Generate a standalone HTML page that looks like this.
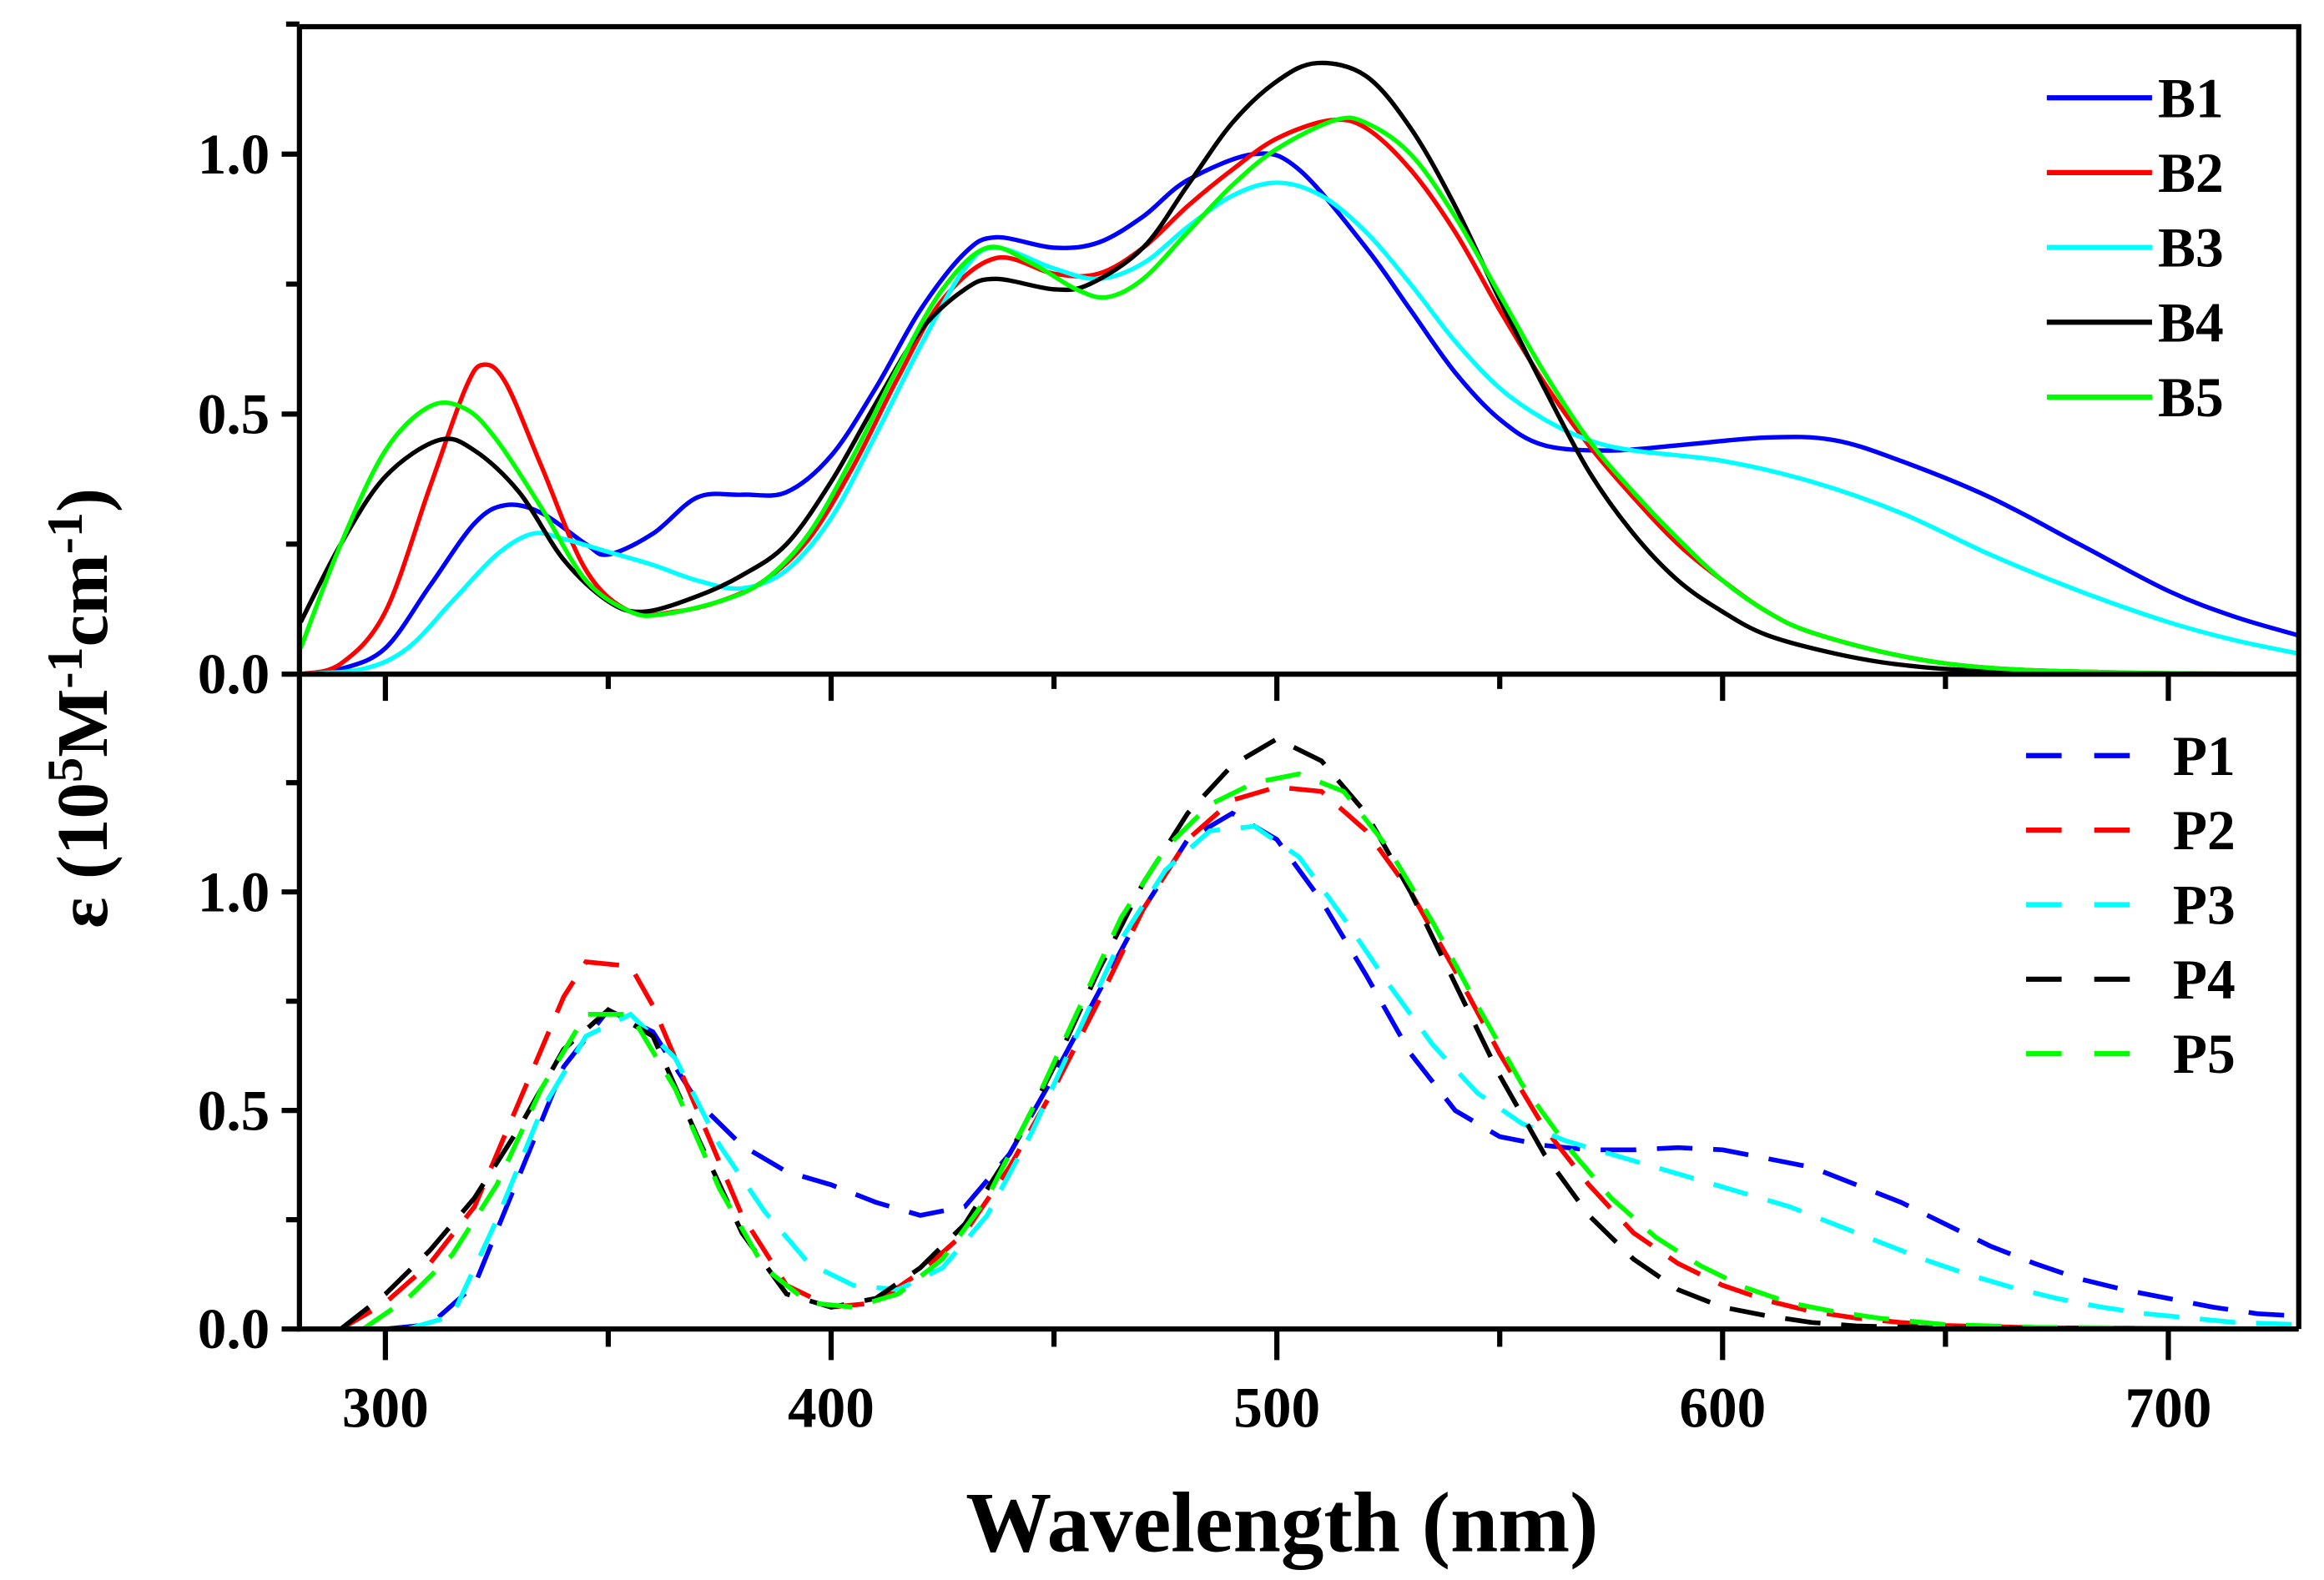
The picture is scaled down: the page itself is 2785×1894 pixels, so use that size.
<!DOCTYPE html>
<html><head><meta charset="utf-8"><style>
html,body{margin:0;padding:0;background:#fff;}
svg{display:block;}
text{font-family:"Liberation Serif",serif;font-weight:bold;fill:#000;}
</style></head><body>
<svg id="chart" width="2785" height="1894" viewBox="0 0 1568 1066.4" xmlns="http://www.w3.org/2000/svg">
<g id="marks"></g>
<g id="axes"></g>
</svg>
<script>
const NS="http://www.w3.org/2000/svg";
const seriesNames=["B1","B2","B3","B4","B5"];
const pNames=["P1","P2","P3","P4","P5"];
const colors=["#0000ff","#ff0000","#00ffff","#000000","#00ff00"];
const xTicks=[300,400,500,600,700];
const yTicks=[0,0.5,1.0];
const B1x=[281,290,300,310,320,327,335,345,350,360,370,380,390,400,410,420,430,437,450,460,470,480,495,505,520,530,540,550,560,575,590,610,625,640,660,680,700,715,729];
const B1y=[0,0.01,0.05,0.17,0.29,0.325,0.31,0.25,0.23,0.27,0.34,0.345,0.35,0.42,0.55,0.70,0.81,0.84,0.82,0.83,0.88,0.95,1.0,0.97,0.82,0.70,0.58,0.49,0.44,0.43,0.44,0.455,0.45,0.41,0.34,0.25,0.16,0.11,0.075];
const B2x=[281,290,300,310,318,322,327,335,345,355,365,375,385,395,405,415,425,437,450,460,470,480,490,500,512,520,530,540,550,560,570,580,590,600,610,620,640,660,690,729];
const B2y=[0,0.02,0.12,0.36,0.55,0.595,0.56,0.40,0.20,0.12,0.12,0.14,0.18,0.26,0.40,0.57,0.72,0.80,0.77,0.77,0.82,0.90,0.97,1.03,1.065,1.05,0.97,0.85,0.70,0.56,0.44,0.34,0.25,0.18,0.12,0.08,0.035,0.012,0.003,0];
const B3x=[281,295,305,315,325,333,340,350,360,370,380,390,400,410,420,430,437,450,460,470,480,490,500,510,520,530,540,550,560,570,580,600,620,640,660,680,700,715,729];
const B3y=[0,0.01,0.05,0.14,0.23,0.27,0.26,0.235,0.21,0.18,0.165,0.2,0.30,0.46,0.63,0.78,0.82,0.78,0.76,0.79,0.86,0.92,0.945,0.92,0.85,0.75,0.64,0.55,0.49,0.45,0.43,0.41,0.37,0.31,0.23,0.16,0.10,0.065,0.04];
const B4x=[281,290,300,312,320,330,340,350,358,370,380,390,400,410,420,430,437,450,458,470,480,490,500,509,520,530,540,550,560,570,580,590,600,610,625,640,660,700,729];
const B4y=[0.1,0.25,0.38,0.45,0.43,0.35,0.22,0.14,0.12,0.15,0.19,0.25,0.37,0.52,0.66,0.74,0.76,0.74,0.75,0.82,0.94,1.06,1.14,1.175,1.15,1.05,0.90,0.72,0.55,0.39,0.27,0.18,0.12,0.075,0.04,0.018,0.006,0.001,0];
const B5x=[281,290,300,310,318,325,335,345,355,362,375,385,395,405,415,425,435,445,455,462,470,480,490,500,513,520,530,540,550,560,570,580,590,600,610,620,640,660,690,729];
const B5y=[0.05,0.25,0.43,0.515,0.51,0.45,0.32,0.18,0.12,0.115,0.14,0.18,0.27,0.42,0.59,0.74,0.82,0.79,0.74,0.725,0.76,0.85,0.94,1.01,1.065,1.06,1.0,0.88,0.73,0.58,0.45,0.35,0.26,0.18,0.12,0.08,0.035,0.012,0.003,0];
const P1x=[300,310,320,330,340,350,360,370,380,390,400,410,420,430,440,450,460,470,480,490,500,510,520,530,540,550,560,570,580,590,600,610,620,630,640,650,660,670,680,690,700,710,720,729];
const P1y=[0,0.01,0.1,0.35,0.6,0.73,0.68,0.52,0.42,0.36,0.33,0.29,0.26,0.28,0.40,0.58,0.77,0.96,1.12,1.18,1.12,0.98,0.81,0.63,0.5,0.44,0.42,0.41,0.41,0.415,0.41,0.39,0.37,0.33,0.29,0.24,0.19,0.15,0.115,0.09,0.07,0.05,0.035,0.03];
const P2x=[290,300,310,320,330,340,345,355,360,370,380,390,400,410,420,430,440,450,460,470,480,490,500,510,520,530,540,550,560,570,580,590,600,610,620,630,640,650,670,729];
const P2y=[0,0.06,0.15,0.28,0.52,0.76,0.84,0.83,0.74,0.50,0.26,0.1,0.05,0.06,0.13,0.22,0.37,0.55,0.75,0.96,1.12,1.21,1.24,1.23,1.14,1.0,0.82,0.63,0.46,0.33,0.22,0.15,0.1,0.065,0.04,0.025,0.015,0.008,0.003,0];
const P3x=[305,315,325,335,345,355,365,375,385,395,405,415,425,435,445,455,465,475,485,495,505,515,525,535,545,555,565,575,585,595,605,615,625,635,645,655,665,675,685,695,705,715,729];
const P3y=[0,0.03,0.25,0.5,0.67,0.72,0.62,0.42,0.27,0.15,0.10,0.09,0.14,0.26,0.45,0.67,0.89,1.05,1.14,1.15,1.08,0.94,0.79,0.65,0.54,0.47,0.43,0.4,0.37,0.34,0.31,0.28,0.24,0.2,0.16,0.125,0.095,0.07,0.05,0.035,0.025,0.015,0.01];
const P4x=[290,300,310,320,330,340,350,360,370,380,390,400,410,420,430,440,450,460,470,480,490,500,510,520,530,540,550,560,570,580,590,600,610,620,630,650,729];
const P4y=[0,0.08,0.18,0.3,0.46,0.64,0.73,0.67,0.44,0.22,0.08,0.05,0.07,0.14,0.24,0.40,0.6,0.82,1.02,1.18,1.29,1.35,1.3,1.18,1.0,0.79,0.58,0.4,0.26,0.16,0.09,0.05,0.03,0.015,0.007,0.002,0];
const P5x=[295,305,315,325,335,345,355,365,375,385,395,405,415,425,435,445,455,465,475,485,495,505,515,525,535,545,555,565,575,585,595,605,615,625,635,650,670,729];
const P5y=[0,0.07,0.17,0.33,0.55,0.72,0.72,0.55,0.32,0.14,0.06,0.05,0.08,0.16,0.3,0.5,0.72,0.94,1.1,1.2,1.25,1.27,1.23,1.1,0.93,0.74,0.56,0.42,0.3,0.21,0.145,0.095,0.06,0.04,0.025,0.01,0.004,0];

const XL=202,XR=1551;
const xS=v=>260+(v-300)*(1463-260)/400;
const yTop=v=>455-v*351;
const yBot=v=>897-v*295;
const marks=document.getElementById('marks');
const axes=document.getElementById('axes');
function mk(tag,attrs,parent){const e=document.createElementNS(NS,tag);for(const k in attrs)e.setAttribute(k,attrs[k]);parent.appendChild(e);return e;}

function smoothPath(pts){
  let d=`M${pts[0][0]},${pts[0][1]}`;
  for(let i=0;i<pts.length-1;i++){
    const p0=pts[Math.max(0,i-1)],p1=pts[i],p2=pts[i+1],p3=pts[Math.min(pts.length-1,i+2)];
    const c1x=p1[0]+(p2[0]-p0[0])/6,c1y=p1[1]+(p2[1]-p0[1])/6;
    const c2x=p2[0]-(p3[0]-p1[0])/6,c2y=p2[1]-(p3[1]-p1[1])/6;
    d+=` C${c1x},${c1y} ${c2x},${c2y} ${p2[0]},${p2[1]}`;
  }
  return d;
}
const defs=mk('defs',{},marks);
const c1=mk('clipPath',{id:'clipTop'},defs);mk('rect',{x:XL,y:18,width:XR-XL,height:437},c1);
const c2=mk('clipPath',{id:'clipBot'},defs);mk('rect',{x:XL,y:455,width:XR-XL,height:442},c2);

const Bx=[B1x,B2x,B3x,B4x,B5x],By=[B1y,B2y,B3y,B4y,B5y];
const Px=[P1x,P2x,P3x,P4x,P5x],Py=[P1y,P2y,P3y,P4y,P5y];
const gT=mk('g',{'clip-path':'url(#clipTop)'},marks);
const gB=mk('g',{'clip-path':'url(#clipBot)'},marks);
for(let s=0;s<5;s++){
  const pts=Bx[s].map((x,i)=>[xS(x),yTop(By[s][i])]);
  const p=mk('path',{d:smoothPath(pts),fill:'none',stroke:colors[s],'stroke-width':3},gT);
  
  
}
for(let s=0;s<5;s++){
  const pts=Px[s].map((x,i)=>xS(x)+','+yBot(Py[s][i])).join(' ');
  const p=mk('polyline',{points:pts,fill:'none',stroke:colors[s],'stroke-width':3.2,'stroke-dasharray':'24,14'},gB);
  
  
}
const fr=mk('path',{d:`M${XL},18 H${XR} V897 M${XL},18 V897 H${XR} M${XL},455 H${XR}`,fill:'none',stroke:'#000','stroke-width':3.5},axes);


for(let v=300;v<=700;v+=50){
  const major=v%100===0;
  mk('line',{x1:xS(v),x2:xS(v),y1:455,y2:455+(major?18:10),stroke:'#000','stroke-width':3.5},axes);
  mk('line',{x1:xS(v),x2:xS(v),y1:897,y2:897+(major?21:12),stroke:'#000','stroke-width':3.5},axes);
}
xTicks.forEach(v=>{
  const t=mk('text',{x:xS(v),y:963,'text-anchor':'middle','font-size':39},axes);
  t.textContent=v;
  
  
});
for(let v=0;v<=1.25;v+=0.25){
  const major=Math.abs(v*2-Math.round(v*2))<1e-6;
  mk('line',{x1:XL,x2:XL-(major?12:9),y1:yTop(v),y2:yTop(v),stroke:'#000','stroke-width':3.5},axes);
  mk('line',{x1:XL,x2:XL-(major?12:9),y1:yBot(v),y2:yBot(v),stroke:'#000','stroke-width':3.5},axes);
}
yTicks.forEach(v=>{
  const t1=mk('text',{x:182,y:yTop(v)+13,'text-anchor':'end','font-size':39},axes);
  t1.textContent=v.toFixed(1);
  
  
  const t2=mk('text',{x:182,y:yBot(v)+13,'text-anchor':'end','font-size':39},axes);
  t2.textContent=v.toFixed(1);
  
  
});
seriesNames.forEach((n,i)=>{
  const y=66+i*50.5;
  const l=mk('line',{x1:1381,x2:1452,y1:y,y2:y,stroke:colors[i],'stroke-width':3.5},axes);
  
  
  const t=mk('text',{x:1456,y:y+13,'font-size':38},axes);
  t.textContent=n;
  
  
});
pNames.forEach((n,i)=>{
  const y=510+i*50.3;
  const l=mk('line',{x1:1367,x2:1442,y1:y,y2:y,stroke:colors[i],'stroke-width':3.5,'stroke-dasharray':'24,22'},axes);
  
  
  const t=mk('text',{x:1466,y:y+13,'font-size':38},axes);
  t.textContent=n;
  
  
});
</script>
<svg style="position:absolute;left:0;top:0" width="2785" height="1894" viewBox="0 0 1568 1066.4" xmlns="http://www.w3.org/2000/svg">
<text x="865" y="1047" text-anchor="middle" font-size="58" style="font-family:'Liberation Serif',serif;font-weight:bold">Wavelength (nm)</text>
<text transform="translate(72,478) rotate(-90)" text-anchor="middle" font-size="49" style="font-family:'Liberation Serif','DejaVu Serif',serif;font-weight:bold">ε (10<tspan dy="-17" font-size="34">5</tspan><tspan dy="17">M</tspan><tspan dy="-17" font-size="34">-1</tspan><tspan dy="17">cm</tspan><tspan dy="-17" font-size="34">-1</tspan><tspan dy="17">)</tspan></text>
</svg>
</body></html>
